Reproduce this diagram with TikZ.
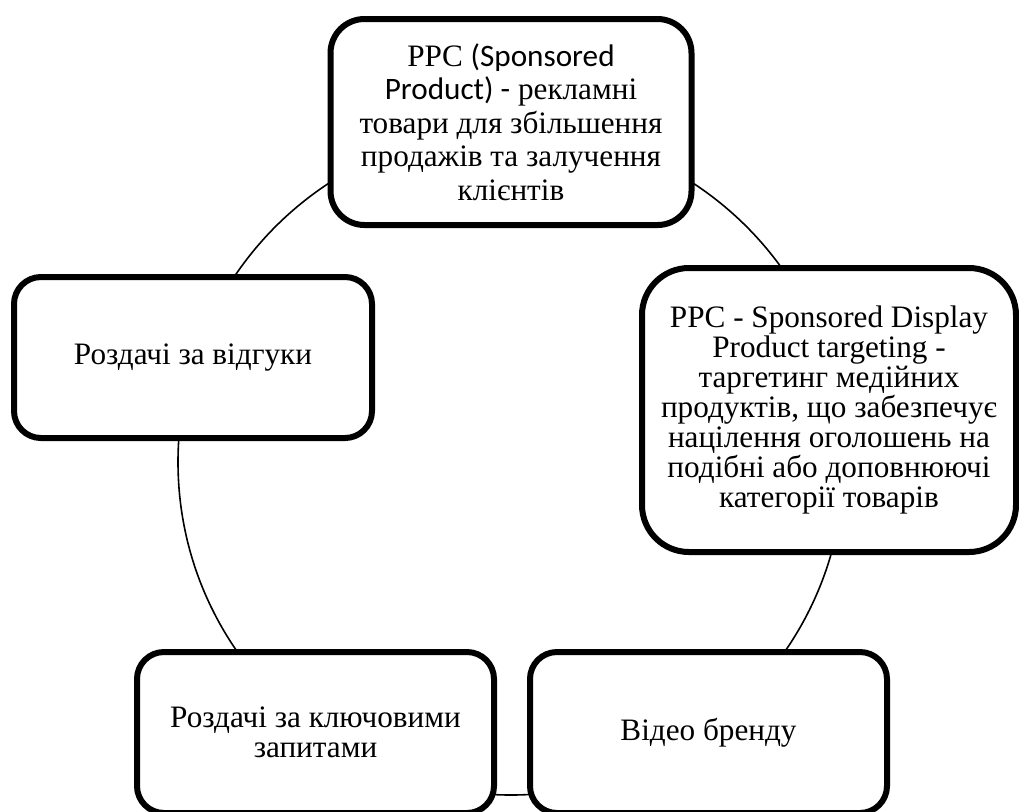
\documentclass[tikz,border=0pt]{standalone}
\usepackage{fontspec}
\setmainfont{Liberation Serif}
\newfontfamily\calibri{Carlito}
\begin{document}
\begin{tikzpicture}[
        x=0.5pt, y=-0.5pt,
        font=\fontsize{15.6}{15}\selectfont,
        item/.style={draw, line width=3pt, fill=white, align=center, inner sep=0pt}, % Box styling
        wide/.style={item, minimum width=178.5pt, minimum height=80.5pt, rounded corners=13.5pt}, % Small box styling
        cycle/.style={line width=0.8pt} % Circle styling
        ]
        \useasboundingbox (0,0) rectangle (1019,811);
        \clip (0,0) rectangle (1019,811);

        % Draw circle
        \coordinate (centre) at (511,462);
        \draw[cycle] (centre) circle [radius=333];

        % Define nodes
        \node (sponsored) [item, minimum width=180.5pt, minimum height=103pt, rounded corners=17pt,
            font=\fontsize{15.6}{16.8}\selectfont] at (511,122)
            {PPC {\calibri(Sponsored}\\{\calibri Product) -} рекламні\\товари для збільшення\\продажів та залучення\\клієнтів};
        \node (display) [item, minimum width=187pt, minimum height=142pt, rounded corners=23.5pt] at (829,410)
            {PPC - Sponsored Display\\Product targeting -\\таргетинг медійних\\продуктів, що забезпечує\\націлення оголошень на\\подібні або доповнюючі\\категорії товарів};
        \node (video) [wide] at (708.5,732.5) {Відео бренду};
        \node (keywords) [wide] at (315.5,732.5) {Роздачі за ключовими\\запитами};
        \node (reviews) [wide, minimum width=179pt] at (193,357.5) {Роздачі за відгуки};

    \end{tikzpicture}
\end{document}
